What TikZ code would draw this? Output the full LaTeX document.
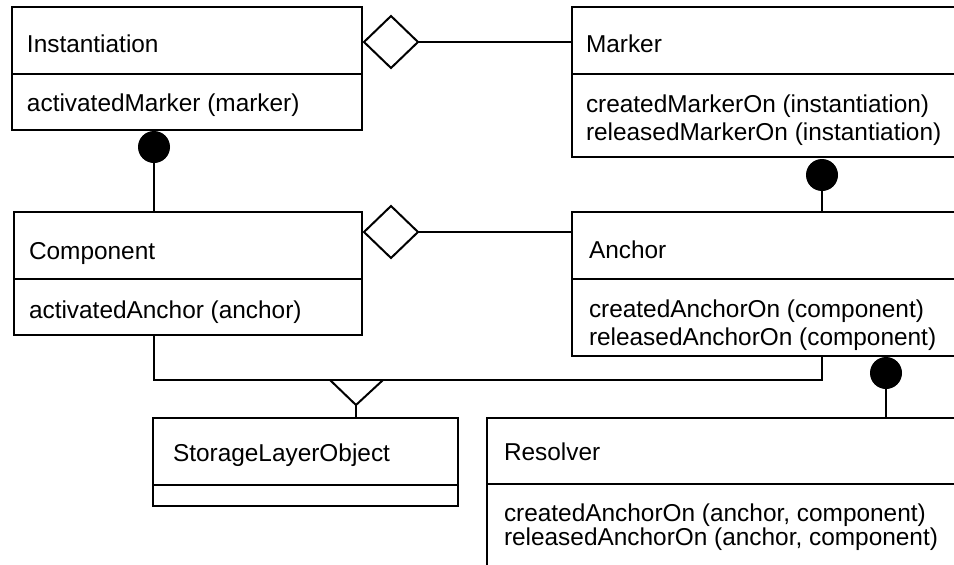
\documentclass[tikz,border=0pt]{standalone}
\usepackage{fontspec}
\setmainfont{Liberation Sans}
\usetikzlibrary{shapes.geometric}
\begin{document}
\begin{tikzpicture}[x=1pt,y=-1pt,line width=2pt,
  classbox/.style={draw, rectangle, inner sep=0pt, outer sep=0pt},
  lbl/.style={anchor=base west, inner sep=0pt, outer sep=0pt, font=\fontsize{24.4}{29}\selectfont},
  agg/.style={draw, diamond, fill=white, inner sep=0pt, outer sep=0pt,
    minimum width=54pt, minimum height=52pt},
  comp/.style={circle, fill=black, inner sep=0pt, outer sep=0pt, minimum size=32pt}]
\useasboundingbox (0,0) rectangle (954,565);
\clip (0,0) rectangle (954,565);

% class boxes
\node[classbox, minimum width=350pt, minimum height=123pt, anchor=north west] (inst) at (12,7) {};
\node[classbox, minimum width=400pt, minimum height=150pt, anchor=north west] (marker) at (572,7) {};
\node[classbox, minimum width=348pt, minimum height=123pt, anchor=north west] (comp) at (14,212) {};
\node[classbox, minimum width=400pt, minimum height=144pt, anchor=north west] (anchor) at (572,212) {};
\node[classbox, minimum width=305pt, minimum height=88pt, anchor=north west] (slo) at (153,418) {};
\node[classbox, minimum width=480pt, minimum height=200pt, anchor=north west] (resolver) at (487,418) {};

% compartment dividers
\draw (inst.west |- 0,74) -- (inst.east |- 0,74);
\draw (marker.west |- 0,74) -- (marker.east |- 0,74);
\draw (comp.west |- 0,279) -- (comp.east |- 0,279);
\draw (anchor.west |- 0,279) -- (anchor.east |- 0,279);
\draw (slo.west |- 0,485) -- (slo.east |- 0,485);
\draw (resolver.west |- 0,484) -- (resolver.east |- 0,484);

% names and operations
\node[lbl] (tInst) at (27,52) {Instantiation};
\node[lbl] (tInstOp) at (27,111) {activatedMarker (marker)};
\node[lbl] (tMarker) at (586,52) {Marker};
\node[lbl] (tMarkerOp1) at (586,112) {createdMarkerOn (instantiation)};
\node[lbl] (tMarkerOp2) at (586,140) {releasedMarkerOn (instantiation)};
\node[lbl] (tComp) at (29,259) {Component};
\node[lbl] (tCompOp) at (29,318) {activatedAnchor (anchor)};
\node[lbl] (tAnchor) at (589,258) {Anchor};
\node[lbl] (tAnchorOp1) at (589,317) {createdAnchorOn (component)};
\node[lbl] (tAnchorOp2) at (589,345) {releasedAnchorOn (component)};
\node[lbl] (tSlo) at (173,461) {StorageLayerObject};
\node[lbl] (tRes) at (504,460) {Resolver};
\node[lbl] (tResOp1) at (504,521) {createdAnchorOn (anchor, component)};
\node[lbl] (tResOp2) at (504,545) {releasedAnchorOn (anchor, component)};

% aggregations
\node[agg] (agg1) at (391,42) {};
\node[agg] (agg2) at (391,232) {};
\draw (agg1.east) -- (agg1.east -| marker.west);
\draw (agg2.east) -- (agg2.east -| anchor.west);

% compositions
\node[comp] (c1) at (154,147) {};
\node[comp] (c2) at (822,175) {};
\node[comp] (c3) at (886,373) {};
\draw (c1.center) -- (c1.center |- comp.north);
\draw (c2.center) -- (c2.center |- anchor.north);
\draw (c3.center) -- (c3.center |- resolver.north);

% generalization to StorageLayerObject
\coordinate (gl) at (154,380);
\coordinate (gr) at (822,380);
\coordinate (apex) at (356,405);
\draw (gl |- comp.south) -- (gl) -- (gr) -- (gr |- anchor.south);
\draw (330,380) -- (apex) -- (383,380);
\draw (apex) -- (apex |- slo.north);
\end{tikzpicture}
\end{document}
